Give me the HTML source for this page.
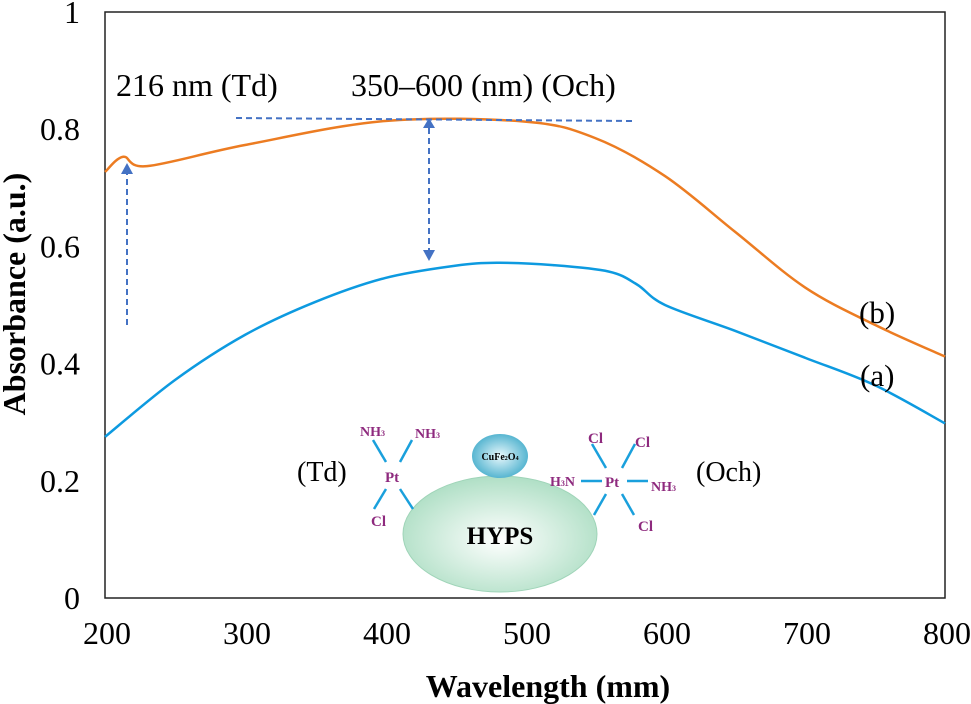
<!DOCTYPE html>
<html><head><meta charset="utf-8"><style>
body{margin:0;background:#fff;}
svg{display:block;font-family:"Liberation Serif",serif;}
</style></head><body>
<svg id="chart" width="971" height="704">
<defs>
<radialGradient id="g1" cx="0.5" cy="0.55" r="0.6"><stop offset="0" stop-color="#ffffff"/><stop offset="1" stop-color="#a8dcc0"/></radialGradient>
<radialGradient id="g2" cx="0.5" cy="0.5" r="0.6"><stop offset="0" stop-color="#e8f8fc"/><stop offset="1" stop-color="#3aa8c8"/></radialGradient>
</defs>
<g id="axes"></g>
<g id="series"></g>
<g stroke="#4472c4" stroke-width="2" stroke-dasharray="6,4" fill="none">
<line x1="127" y1="325" x2="127" y2="172"/>
<line x1="236" y1="118" x2="632" y2="121"/>
<line x1="429" y1="128" x2="429" y2="252"/>
</g>
<g fill="#4472c4"><polygon points="121,174 133,174 127,163"/><polygon points="423,128 435,128 429,118"/><polygon points="423,250 435,250 429,261"/></g>
<text x="116" y="96" font-size="32">216 nm (Td)</text>
<text x="351" y="96" font-size="32">350–600 (nm) (Och)</text>
<text x="859" y="323" font-size="31">(b)</text>
<text x="860" y="386" font-size="31">(a)</text>
<g>
<ellipse cx="500" cy="534" rx="97" ry="58" fill="url(#g1)" stroke="#9fd4b8"/>
<ellipse cx="500" cy="456" rx="28" ry="22" fill="url(#g2)"/>
<text x="500" y="460" font-size="10" font-weight="bold" text-anchor="middle">CuFe<tspan font-size="6">2</tspan>O<tspan font-size="6">4</tspan></text>
<text x="500" y="544" font-size="25" font-weight="bold" text-anchor="middle">HYPS</text>
<g stroke="#1aa0dc" stroke-width="2.5">
<line x1="373" y1="440" x2="386" y2="462"/><line x1="412" y1="440" x2="400" y2="462"/>
<line x1="386" y1="489" x2="374" y2="509"/><line x1="400" y1="489" x2="413" y2="509"/>
<line x1="581" y1="481" x2="602" y2="481"/><line x1="627" y1="481" x2="648" y2="481"/>
<line x1="592" y1="444" x2="606" y2="468"/><line x1="635" y1="444" x2="622" y2="468"/>
<line x1="606" y1="494" x2="594" y2="515"/><line x1="622" y1="494" x2="634" y2="515"/>
</g>
<g fill="#8e2a7e" font-weight="bold" font-size="15">
<text x="360" y="436" font-size="14">NH<tspan font-size="8">3</tspan></text>
<text x="415" y="438" font-size="14">NH<tspan font-size="8">3</tspan></text>
<text x="385" y="482">Pt</text>
<text x="371" y="526">Cl</text>
<text x="588" y="443">Cl</text>
<text x="635" y="447">Cl</text>
<text x="550" y="486" font-size="14">H<tspan font-size="8">3</tspan>N</text>
<text x="605" y="487">Pt</text>
<text x="651" y="491" font-size="14">NH<tspan font-size="8">3</tspan></text>
<text x="638" y="531">Cl</text>
</g>
<text x="297" y="481" font-size="28">(Td)</text>
<text x="696" y="481" font-size="28">(Och)</text>
</g>
</svg>
<script>
const xTicks=[200,300,400,500,600,700,800];
const yTicks=[0,0.2,0.4,0.6,0.8,1];
const yTickLabels=["0","0.2","0.4","0.6","0.8","1"];
const wlA=[200,250,300,350,400,450,480,520,560,580,600,650,700,750,800];
const absA=[0.275,0.372,0.449,0.505,0.546,0.567,0.572,0.568,0.557,0.535,0.5,0.456,0.41,0.363,0.298];
const wlB=[200,213,230,300,400,500,550,600,650,700,750,800];
const absB=[0.727,0.753,0.737,0.773,0.814,0.813,0.785,0.72,0.625,0.53,0.466,0.412];
const NS="http://www.w3.org/2000/svg";
const L=105,R=945,T=12,B=598;
const sx=v=>L+(v-200)/600*(R-L);
const sy=v=>B-v*(B-T);
function mk(tag,attrs,parent){const e=document.createElementNS(NS,tag);for(const k in attrs)e.setAttribute(k,attrs[k]);parent.appendChild(e);return e;}
const ax=document.getElementById('axes');
const frame=mk('rect',{x:L,y:T,width:R-L,height:B-T,fill:'none',stroke:'#222','stroke-width':1.5},ax);


xTicks.forEach(v=>{const t=mk('text',{x:sx(v)+2,y:644,'font-size':32,'text-anchor':'middle'},ax);t.textContent=v;

});
yTicks.forEach((v,i)=>{const t=mk('text',{x:80,y:sy(v)+11,'font-size':32,'text-anchor':'end'},ax);t.textContent=yTickLabels[i];

});
const xt=mk('text',{x:548,y:697,'font-size':32,'font-weight':'bold','text-anchor':'middle'},ax);xt.textContent='Wavelength (mm)';


const yt=mk('text',{x:0,y:0,'font-size':32,'font-weight':'bold','text-anchor':'middle',transform:'translate(25,294) rotate(-90)'},ax);yt.textContent='Absorbance (a.u.)';


function path(xs,ys){const p=xs.map((x,i)=>[sx(x),sy(ys[i])]);let d='M'+p[0][0]+','+p[0][1];
for(let i=0;i<p.length-1;i++){const p0=p[Math.max(i-1,0)],p1=p[i],p2=p[i+1],p3=p[Math.min(i+2,p.length-1)];
const c1=[p1[0]+(p2[0]-p0[0])/6,p1[1]+(p2[1]-p0[1])/6],c2=[p2[0]-(p3[0]-p1[0])/6,p2[1]-(p3[1]-p1[1])/6];
d+=' C'+c1+' '+c2+' '+p2;}return d;}
const sg=document.getElementById('series');
const a=mk('path',{d:path(wlA,absA),fill:'none',stroke:'#0d9ae0','stroke-width':2.5},sg);


const b=mk('path',{d:path(wlB,absB),fill:'none',stroke:'#ec7c22','stroke-width':2.5},sg);


</script>
</body></html>
